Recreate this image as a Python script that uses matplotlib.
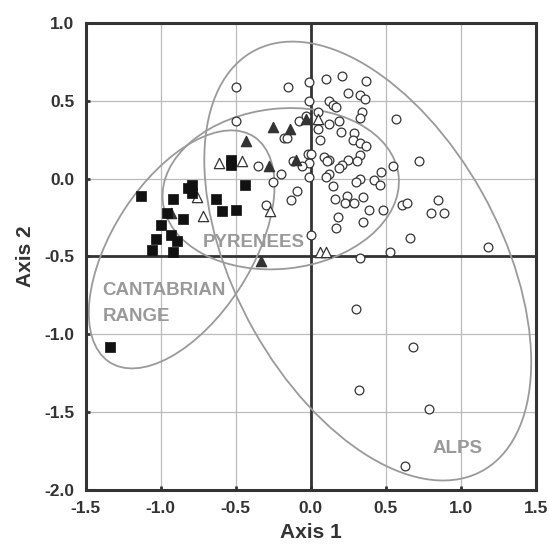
import matplotlib
matplotlib.use("Agg")
import matplotlib.pyplot as plt
from matplotlib.patches import Ellipse

plt.rcParams['font.family'] = ['Liberation Sans', 'DejaVu Sans']

# Alps (open circles)
circle_x = [-0.50, -0.50, -0.15, -0.01, 0.10, 0.21, 0.37, 0.25, 0.33, 0.36,
            -0.01, 0.12, 0.15, 0.17, 0.05, 0.34, 0.33, 0.57, -0.08, 0.12,
            0.19, 0.05, 0.20, 0.29, 0.28, 0.33, 0.37, 0.06, -0.18, -0.16,
            -0.02, 0.00, 0.09, 0.12, 0.11, 0.25, 0.33, 0.31, 0.72, -0.01,
            -0.06, -0.12, -0.35, 0.21, 0.19, 0.12, 0.10, -0.01, -0.20, -0.25,
            0.47, 0.55, 0.33, 0.30, 0.15, 0.42, 0.46, -0.09, -0.13, 0.16,
            0.24, 0.23, 0.29, 0.35, 0.39, 0.48, 0.61, 0.64, 0.85, 0.80,
            0.89, -0.30, 0.18, 0.35, 0.17, 0.66, 0.00, 0.53, 1.18, 0.33,
            0.30, 0.68, 0.32, 0.79, 0.63, -0.03]
circle_y = [0.59, 0.37, 0.59, 0.62, 0.64, 0.66, 0.63, 0.55, 0.54, 0.51,
            0.50, 0.50, 0.47, 0.46, 0.43, 0.43, 0.39, 0.38, 0.37, 0.35,
            0.37, 0.32, 0.30, 0.29, 0.25, 0.23, 0.21, 0.25, 0.26, 0.26,
            0.16, 0.16, 0.14, 0.12, 0.11, 0.12, 0.15, 0.11, 0.11, 0.10,
            0.08, 0.11, 0.08, 0.09, 0.07, 0.03, 0.01, 0.01, 0.03, -0.02,
            0.04, 0.08, 0.00, -0.02, -0.05, -0.01, -0.04, -0.08, -0.14, -0.13,
            -0.11, -0.16, -0.16, -0.12, -0.20, -0.20, -0.17, -0.16, -0.14, -0.22,
            -0.22, -0.17, -0.25, -0.28, -0.32, -0.38, -0.36, -0.47, -0.44, -0.51,
            -0.84, -1.08, -1.36, -1.48, -1.85, 0.40]

# Pyrenees (filled triangles)
ftri_x = [-0.25, -0.14, -0.03, -0.43, -0.28, -0.10, -0.93, -0.33]
ftri_y = [0.33, 0.32, 0.38, 0.24, 0.08, 0.12, -0.22, -0.53]

# Pyrenees (open triangles)
otri_x = [-0.61, -0.46, -0.76, -0.72, -0.27, 0.06, 0.10, 0.05]
otri_y = [0.10, 0.11, -0.12, -0.24, -0.21, -0.47, -0.47, 0.38]

# Cantabrian Range (filled squares)
sq_x = [-1.13, -0.92, -0.82, -0.79, -0.79, -0.53, -0.53, -0.44, -0.63, -0.59,
        -0.50, -0.96, -0.85, -1.00, -0.93, -0.89, -1.03, -1.06, -0.92, -1.34]
sq_y = [-0.11, -0.13, -0.06, -0.04, -0.09, 0.12, 0.09, -0.04, -0.13, -0.21,
        -0.20, -0.22, -0.26, -0.30, -0.36, -0.40, -0.39, -0.46, -0.47, -1.08]

# Group ellipses: (centre x, centre y, width, height, angle)
ellipse_names = ['ALPS', 'PYRENEES', 'CANTABRIAN']
ellipse_cx = [0.38, -0.20, -0.86]
ellipse_cy = [-0.53, -0.065, -0.455]
ellipse_w = [3.10, 1.58, 1.74]
ellipse_h = [1.76, 1.03, 0.92]
ellipse_angle = [-59.8, 5.8, 55.9]

x_ticks = [-1.5, -1.0, -0.5, 0.0, 0.5, 1.0, 1.5]
y_ticks = [-2.0, -1.5, -1.0, -0.5, 0.0, 0.5, 1.0]

fig = plt.figure(figsize=(5.49, 5.49), dpi=100)
ax = fig.add_axes([0.156, 0.108, 0.82, 0.850])
ax.set_xlim(-1.5, 1.5)
ax.set_ylim(-2.0, 1.0)

for v in x_ticks[1:-1]:
    ax.axvline(v, color='#bbbbbb', lw=0.9, zorder=0)
for v in y_ticks[1:-1]:
    ax.axhline(v, color='#bbbbbb', lw=0.9, zorder=0)
ax.axvline(0.0, color='#333333', lw=2.0, zorder=1)
ax.axhline(-0.5, color='#333333', lw=2.0, zorder=1)

for cx, cy, w, h, a in zip(ellipse_cx, ellipse_cy, ellipse_w, ellipse_h, ellipse_angle):
    ax.add_patch(Ellipse((cx, cy), w, h, angle=a, fill=False,
                         edgecolor='#9a9a9a', lw=1.3, zorder=2))

ax.scatter(circle_x, circle_y, s=40, marker='o', facecolors='white',
           edgecolors='#333333', linewidths=0.9, zorder=3)
ax.scatter(otri_x, otri_y, s=55, marker='^', facecolors='white',
           edgecolors='#333333', linewidths=0.9, zorder=4)
ax.scatter(ftri_x, ftri_y, s=55, marker='^', facecolors='#333333',
           edgecolors='#333333', linewidths=0.9, zorder=4)
ax.scatter(sq_x, sq_y, s=50, marker='s', facecolors='#111111',
           edgecolors='#111111', linewidths=0.5, zorder=5)

lab_kw = dict(color='#999999', fontsize=13.5, fontweight='bold', zorder=6)
ax.text(-0.378, -0.413, 'PYRENEES', ha='center', va='center', **lab_kw)
ax.text(-1.387, -0.72, 'CANTABRIAN', ha='left', va='center', **lab_kw)
ax.text(-1.387, -0.884, 'RANGE', ha='left', va='center', **lab_kw)
ax.text(0.98, -1.735, 'ALPS', ha='center', va='center', **lab_kw)

ax.set_xticks(x_ticks)
ax.set_yticks(y_ticks)
ax.set_xticklabels([f'{v:.1f}' for v in x_ticks])
ax.set_yticklabels([f'{v:.1f}' for v in y_ticks])
ax.tick_params(direction='in', length=3, width=2, color='#333333',
               labelsize=12.5, labelcolor='#333333', pad=8)
for lbl in ax.get_xticklabels() + ax.get_yticklabels():
    lbl.set_fontweight('bold')
for sp in ax.spines.values():
    sp.set_linewidth(2.2)
    sp.set_color('#333333')

ax.set_xlabel('Axis 1', fontsize=15, fontweight='bold', color='#333333', labelpad=5)
ax.set_ylabel('Axis 2', fontsize=15, fontweight='bold', color='#333333', labelpad=7)

fig.savefig('out.png', dpi=100)
